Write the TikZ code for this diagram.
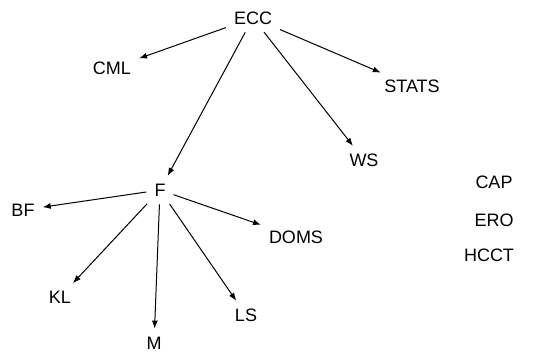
\documentclass[tikz,border=0pt]{standalone}
\usepackage{fontspec}
\setmainfont{Liberation Sans}
\usetikzlibrary{arrows.meta}
\begin{document}
\begin{tikzpicture}[x=1pt,y=-1pt,
  lbl/.style={font=\fontsize{18}{20}\selectfont, inner sep=6pt},
  link/.style={draw=black, line width=1pt, -{Latex[length=8pt,width=6pt]},
    shorten <=2pt, shorten >=2pt}]
\useasboundingbox (0,0) rectangle (554,354);
% nodes
\node[lbl] (ecc)   at (253,18)  {ECC};
\node[lbl] (cml)   at (112,68)  {CML};
\node[lbl] (stats) at (412,86)  {STATS};
\node[lbl] (ws)    at (364,160) {WS};
\node[lbl] (f)     at (160,190) {F};
\node[lbl] (bf)    at (23,210)  {BF};
\node[lbl] (doms)  at (296,237) {DOMS};
\node[lbl] (kl)    at (60,297)  {KL};
\node[lbl] (ls)    at (246,315) {LS};
\node[lbl] (m)     at (154,343) {M};
\node[lbl] (cap)   at (494,182) {CAP};
\node[lbl] (ero)   at (494,220) {ERO};
\node[lbl] (hcct)  at (489,255) {HCCT};
% connectors
\draw[link] (ecc) -- (cml);
\draw[link] (ecc) -- (f);
\draw[link] (ecc) -- (ws);
\draw[link] (ecc) -- (stats);
\draw[link] (f) -- (bf);
\draw[link] (f) -- (kl);
\draw[link] (f) -- (m);
\draw[link] (f) -- (ls);
\draw[link] (f) -- (doms);
\end{tikzpicture}
\end{document}
